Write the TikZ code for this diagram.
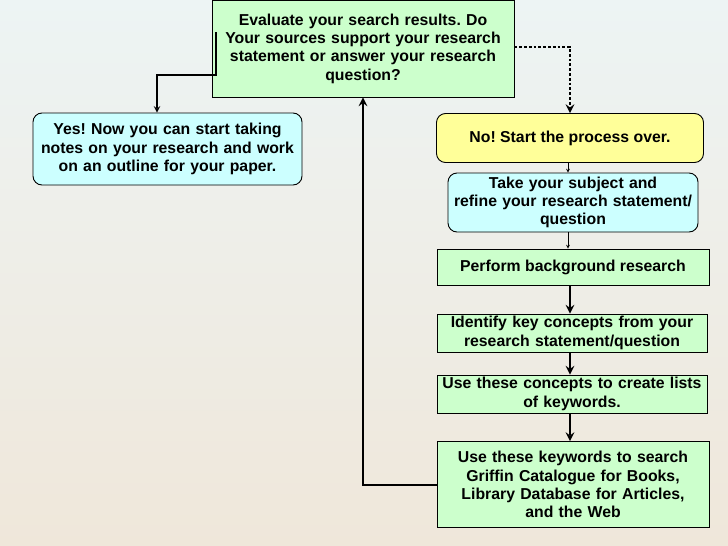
\documentclass[tikz,border=0pt]{standalone}
\usepackage{fontspec}
\setmainfont{Liberation Sans}
\usepackage{tikz}
\frenchspacing

\tikzset{
  box/.style={draw=black, line width=0.9pt, fill=boxgreen, align=center,
    inner sep=1pt, font=\bfseries\fontsize{15.8}{18.3}\selectfont},
  roundbox/.style={box, rounded corners=9pt},
}
\definecolor{boxgreen}{HTML}{CCFFCC}
\definecolor{boxcyan}{HTML}{CCFFFF}
\definecolor{boxyellow}{HTML}{FFFF99}
\definecolor{bgtop}{HTML}{EDF4F4}
\definecolor{bgbottom}{HTML}{EFE7DA}

\begin{document}
\begin{tikzpicture}[x=1pt, y=-1pt, >=stealth]
\useasboundingbox (0,0) rectangle (728,546);
\shade[top color=bgtop, bottom color=bgbottom] (0,0) rectangle (728,546);
% question at the top
\draw (363,48.5)node[box, minimum width=302pt, minimum height=97pt, text width=298pt](top){Evaluate your search results. Do\\Your sources support your research\\statement or answer your research\\question?};
\draw (167.5,149)node[roundbox, fill=boxcyan, minimum width=269pt, minimum height=72pt, text width=266pt](yes){Yes! Now you can start taking\\notes on your research and work\\on an outline for your paper.};
\draw (570,138)node[roundbox, fill=boxyellow, minimum width=267pt, minimum height=49pt](no){No! Start the process over.};
\draw (573,202.5)node[roundbox, fill=boxcyan, minimum width=250pt, minimum height=59pt, text width=248pt](take){Take your subject and\\refine your research statement/\\question};
% search steps
\draw (573,267)node[box, minimum width=272pt, minimum height=36pt](perform){Perform background research};
\draw (572,333)node[box, minimum width=270pt, minimum height=38pt, text width=268pt](ident){Identify key concepts from your\\research statement/question};
\draw (572,394)node[box, minimum width=270pt, minimum height=38pt, text width=268pt](concepts){Use these concepts to create lists\\of keywords.};
\draw (573,484.5)node[box, minimum width=272pt, minimum height=86pt, text width=268pt](keywords){Use these keywords to search\\Griffin Catalogue for Books,\\Library Database for Articles,\\and the Web};
% connectors
\coordinate (ystart) at (216,32);
\coordinate (yturn) at (216,75);
\coordinate (nturn) at (570,47);
\coordinate (back) at (363,485);
\draw [line width=1.8pt, ->] (ystart)--(yturn)-|(yes.north -| 157,0);
\draw [line width=2.8pt, dotted, ->] (top.east |- nturn)--(nturn)--(no.north -| nturn);
\draw [line width=0.7pt, ->] (no.south -| 568,0)--(take.north -| 568,0);
\draw [line width=0.7pt, ->] (take.south -| 568,0)--(perform.north -| 568,0);
\draw [line width=2.8pt, ->] (perform.south -| 570,0)--(ident.north -| 570,0);
\draw [line width=2.8pt, ->] (ident.south -| 570,0)--(concepts.north -| 570,0);
\draw [line width=2.8pt, ->] (concepts.south -| 570,0)--(keywords.north -| 570,0);
\draw [line width=2.8pt, ->] (keywords.west |- back)--(back)--(top.south -| back);
\end{tikzpicture}
\end{document}
